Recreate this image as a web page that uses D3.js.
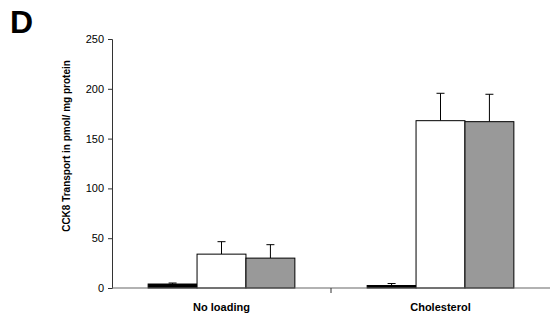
<!DOCTYPE html>
<html>
<head>
<meta charset="utf-8">
<script src="https://cdn.jsdelivr.net/npm/d3@7"></script>
<style>
  body { margin: 0; background: #fff; }
  svg { font-family: "Liberation Sans", Arial, sans-serif; }
</style>
</head>
<body>
<script>
// data
var categories = ["No loading", "Cholesterol"];
var series = ["black", "white", "gray"];
var means = [[4, 34, 30], [2.5, 168, 167]];
var errors = [[1, 12.5, 13.5], [2, 27.5, 27.5]];
var yTicks = [0, 50, 100, 150, 200, 250];

var fills = {black: "#000000", white: "#ffffff", gray: "#999999"};

var margin = {top: 39, right: 0, bottom: 34, left: 112};
var width = 550 - margin.left - margin.right;
var height = 322 - margin.top - margin.bottom;

var svg = d3.select("body").append("svg")
    .attr("width", 550)
    .attr("height", 322);

var g = svg.append("g")
    .attr("transform", "translate(" + margin.left + "," + margin.top + ")");

var x = d3.scaleBand()
    .domain(categories)
    .range([0, width]);

var xInner = d3.scaleBand()
    .domain(series)
    .range([0, x.bandwidth() * 0.67]);

var y = d3.scaleLinear()
    .domain([0, 250])
    .range([height, 0]);

// bars
var groups = g.selectAll(".grp")
    .data(categories)
    .enter()
    .append("g")
    .attr("class", "grp")
    .attr("transform", function(d) {
        return "translate(" + (x(d) + x.bandwidth() * 0.165) + ",0)";
    });

groups.each(function(cat, ci) {
    var rows = series.map(function(s, si) {
        return {s: s, v: means[ci][si], e: errors[ci][si]};
    });
    var grp = d3.select(this);

    // error bars (upward only)
    grp.selectAll(".err")
        .data(rows)
        .enter()
        .append("line")
        .attr("x1", function(d) { return xInner(d.s) + xInner.bandwidth() / 2; })
        .attr("x2", function(d) { return xInner(d.s) + xInner.bandwidth() / 2; })
        .attr("y1", function(d) { return y(d.v); })
        .attr("y2", function(d) { return y(d.v + d.e); })
        .attr("stroke", "#000")
        .attr("stroke-width", 1);

    grp.selectAll(".cap")
        .data(rows)
        .enter()
        .append("line")
        .attr("x1", function(d) { return xInner(d.s) + xInner.bandwidth() / 2 - 4; })
        .attr("x2", function(d) { return xInner(d.s) + xInner.bandwidth() / 2 + 4; })
        .attr("y1", function(d) { return y(d.v + d.e); })
        .attr("y2", function(d) { return y(d.v + d.e); })
        .attr("stroke", "#000")
        .attr("stroke-width", 1);

    grp.selectAll("rect")
        .data(rows)
        .enter()
        .append("rect")
        .attr("x", function(d) { return xInner(d.s); })
        .attr("y", function(d) { return y(d.v); })
        .attr("width", xInner.bandwidth())
        .attr("height", function(d) { return height - y(d.v); })
        .attr("fill", function(d) { return fills[d.s]; })
        .attr("stroke", "#000")
        .attr("stroke-width", 1);
});

// y axis
var yAxis = g.append("g")
    .call(d3.axisLeft(y).tickValues(yTicks).tickSize(4).tickPadding(4));
yAxis.select(".domain").attr("stroke", "#333");
yAxis.selectAll(".tick line").attr("stroke", "#333");
yAxis.selectAll("text").attr("font-size", 11).attr("fill", "#000");

// x axis: baseline with a divider tick between the groups
var xAxis = g.append("g")
    .attr("transform", "translate(0," + height + ")");
xAxis.append("line")
    .attr("x1", 0).attr("x2", width)
    .attr("stroke", "#666").attr("stroke-width", 1.2);
xAxis.append("line")
    .attr("x1", x(categories[1])).attr("x2", x(categories[1]))
    .attr("y1", 0).attr("y2", 5)
    .attr("stroke", "#333");
xAxis.selectAll(".lbl")
    .data(categories)
    .enter()
    .append("text")
    .attr("x", function(d) { return x(d) + x.bandwidth() / 2; })
    .attr("y", 23)
    .attr("text-anchor", "middle")
    .attr("font-size", 11)
    .attr("font-weight", "bold")
    .text(function(d) { return d; });

// y label
svg.append("text")
    .attr("transform", "translate(70,146) rotate(-90)")
    .attr("text-anchor", "middle")
    .attr("font-size", 10)
    .attr("font-weight", "bold")
    .text("CCK8 Transport in pmol/ mg protein");

// panel letter
svg.append("text")
    .attr("x", 10)
    .attr("y", 33)
    .attr("font-size", 32)
    .attr("font-weight", "bold")
    .text("D");
</script>
</body>
</html>
